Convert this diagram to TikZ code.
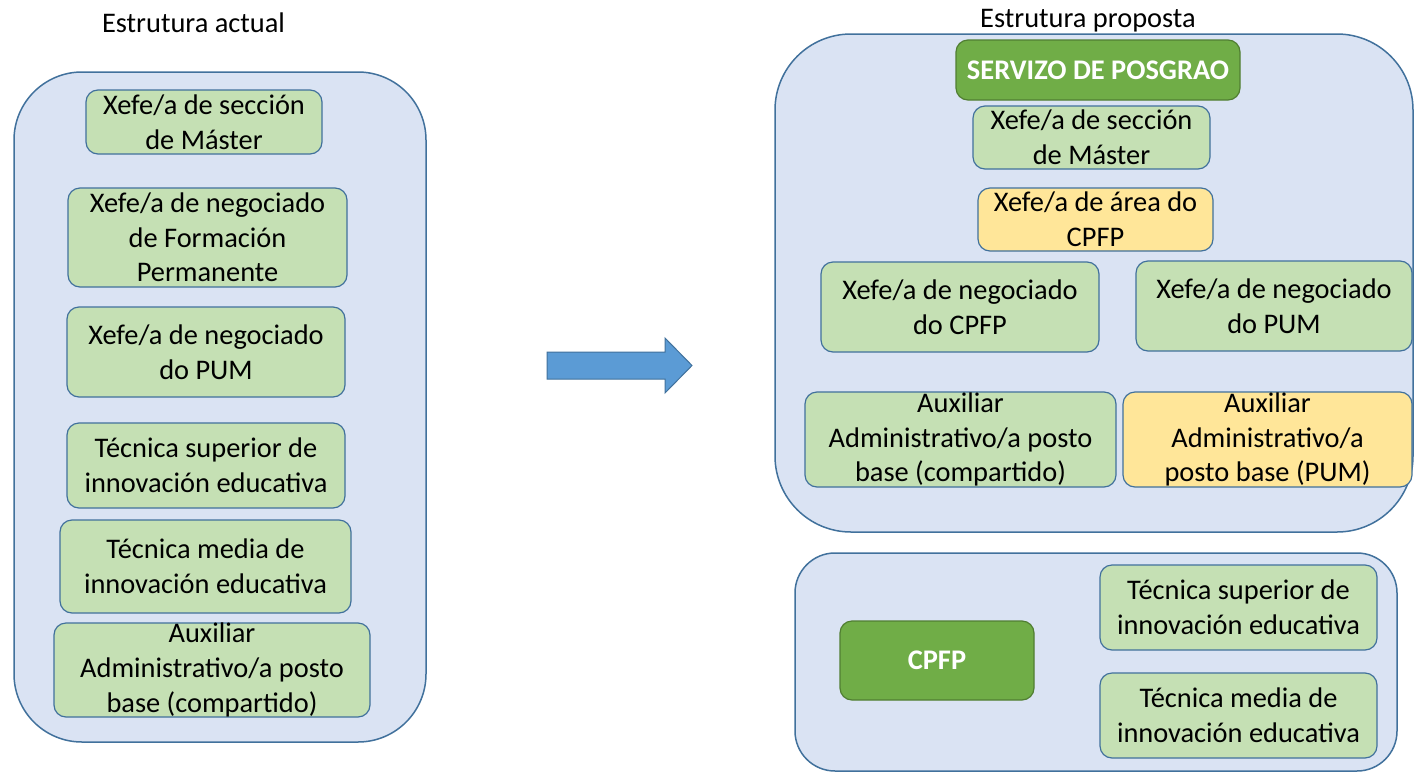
\documentclass[tikz,border=0pt]{standalone}
\usepackage{fontspec}
\setmainfont{Carlito}
\definecolor{outerfill}{HTML}{DAE3F3}
\definecolor{bordblue}{HTML}{41719C}
\definecolor{lgreen}{HTML}{C5E0B4}
\definecolor{dgreen}{HTML}{70AD47}
\definecolor{dgreenbord}{HTML}{507E32}
\definecolor{lyellow}{HTML}{FFE699}
\definecolor{arrowblue}{HTML}{5B9BD5}
\newcommand\bigtxt{\fontsize{28.4}{34.7}\selectfont}
\begin{document}
\begin{tikzpicture}[x=1pt,y=-1pt,
  outerbox/.style={draw=bordblue, fill=outerfill, line width=1.5pt, inner sep=0pt},
  gbox/.style={draw=bordblue, fill=lgreen, rounded corners=12pt, line width=1.2pt, inner sep=0pt, align=center, font=\bigtxt},
  ybox/.style={gbox, fill=lyellow},
  dbox/.style={draw=dgreenbord, fill=dgreen, rounded corners=12pt, line width=1.2pt, inner sep=0pt, align=center, text=white, font=\bigtxt\bfseries},
  title/.style={anchor=base, inner sep=0pt, font=\bigtxt},
  bigarrow/.style={draw=bordblue, fill=arrowblue, line width=1pt, line join=miter}
]
\useasboundingbox (0,0) rectangle (1414,774);
\fill[white] (0,0) rectangle (1414,774);

% titles
\node[title] (tl) at (193.5,32) {Estrutura actual};
\node[title] (tr) at (1088,27) {Estrutura proposta};

% left container
\node[outerbox, rounded corners=68pt, minimum width=412pt, minimum height=670pt] (outerL) at (220,407) {};
\node[gbox, minimum width=236pt, minimum height=64pt] (l1) at (204,122) {Xefe/a de sección\\de Máster};
\node[gbox, minimum width=279pt, minimum height=99pt] (l2) at (207.5,237.5) {Xefe/a de negociado\\de Formación\\Permanente};
\node[gbox, minimum width=278pt, minimum height=90pt] (l3) at (206,352) {Xefe/a de negociado\\do PUM};
\node[gbox, minimum width=278pt, minimum height=85pt] (l4) at (206,465.5) {Técnica superior de\\innovación educativa};
\node[gbox, minimum width=291pt, minimum height=93pt] (l5) at (205.5,566.5) {Técnica media de\\innovación educativa};
\node[gbox, minimum width=316pt, minimum height=94pt] (l6) at (212,670) {Auxiliar\\Administrativo/a posto\\base (compartido)};

% arrow
\draw[bigarrow] (547,352) -- (665,352) -- (665,338) -- (692,365.5) -- (665,393) -- (665,379) -- (547,379) -- cycle;

% right top container
\node[outerbox, rounded corners=76pt, minimum width=638pt, minimum height=498pt] (outerR) at (1094,283) {};
\node[dbox, minimum width=284pt, minimum height=60pt] (serv) at (1098,70) {SERVIZO DE POSGRAO};
\node[gbox, minimum width=237pt, minimum height=63pt] (r1) at (1091.5,137.5) {Xefe/a de sección\\de Máster};
\node[ybox, minimum width=235pt, minimum height=63pt] (r2) at (1095.5,219.5) {Xefe/a de área do\\CPFP};
\node[gbox, minimum width=278pt, minimum height=90pt] (r3) at (960,307) {Xefe/a de negociado\\do CPFP};
\node[gbox, minimum width=276pt, minimum height=90pt] (r4) at (1274,306) {Xefe/a de negociado\\do PUM};
\node[gbox, minimum width=311pt, minimum height=95pt] (r5) at (960.5,439.5) {Auxiliar\\Administrativo/a posto\\base (compartido)};
\node[ybox, minimum width=289pt, minimum height=95pt] (r6) at (1267.5,439.5) {Auxiliar\\Administrativo/a\\posto base (PUM)};

% right bottom container
\node[outerbox, rounded corners=40pt, minimum width=602pt, minimum height=218pt] (outerB) at (1096,662) {};
\node[dbox, minimum width=194pt, minimum height=79pt] (cpfp) at (937,660.5) {CPFP};
\node[gbox, minimum width=277pt, minimum height=85pt] (ts) at (1238.5,607.5) {Técnica superior de\\innovación educativa};
\node[gbox, minimum width=277pt, minimum height=85pt] (tm) at (1238.5,715.5) {Técnica media de\\innovación educativa};
\end{tikzpicture}
\end{document}
